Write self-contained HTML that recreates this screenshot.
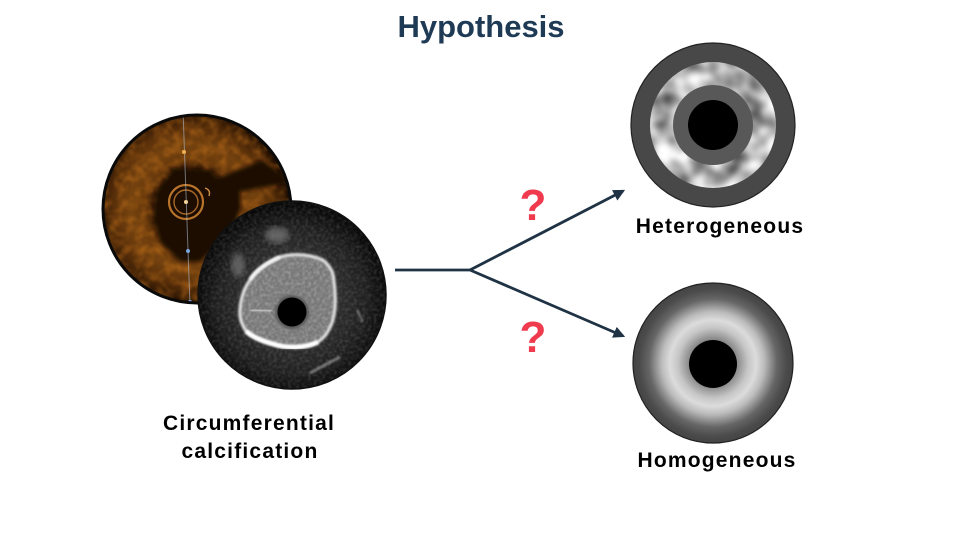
<!DOCTYPE html>
<html>
<head>
<meta charset="utf-8">
<style>
  html,body{margin:0;padding:0;background:#fff;}
  body{width:960px;height:540px;overflow:hidden;}
  svg{display:block;}
  .lbl{font-family:"Liberation Sans",Arial,sans-serif;font-weight:bold;}
</style>
</head>
<body>
<svg width="960" height="540" viewBox="0 0 960 540" xmlns="http://www.w3.org/2000/svg">
  <defs>
    <clipPath id="octClip"><circle cx="197" cy="209" r="94"/></clipPath>
    <clipPath id="ivusClip"><circle cx="292" cy="295" r="94"/></clipPath>
    <clipPath id="ringClip"><circle cx="713" cy="125" r="63"/></clipPath>
    <clipPath id="calcClip"><path d="M250,280 C256,270 268,262 280,257 C292,253 310,254 323,260 C330,266 334,272 334,282 C336,295 336,312 332,323 C328,333 324,338 318,342 C306,348 288,349 273,344 C262,341 252,337 246,331 C241,324 239,316 240,308 C241,297 244,288 250,280 Z"/></clipPath>

    <radialGradient id="octG" cx="192" cy="207" r="95" gradientUnits="userSpaceOnUse">
      <stop offset="0" stop-color="#1a0a02"/>
      <stop offset="0.38" stop-color="#241003"/>
      <stop offset="0.5" stop-color="#6a3a0c"/>
      <stop offset="0.66" stop-color="#74420f"/>
      <stop offset="0.82" stop-color="#5a300a"/>
      <stop offset="0.95" stop-color="#361b05"/>
      <stop offset="1" stop-color="#1e0e02"/>
    </radialGradient>
    <radialGradient id="ivusG" cx="292" cy="300" r="95" gradientUnits="userSpaceOnUse">
      <stop offset="0" stop-color="#4a4a4a"/>
      <stop offset="0.55" stop-color="#2a2a2a"/>
      <stop offset="0.78" stop-color="#1e1e1e"/>
      <stop offset="1" stop-color="#080808"/>
    </radialGradient>
    <radialGradient id="homoG" cx="713" cy="363" r="80" gradientUnits="userSpaceOnUse">
      <stop offset="0" stop-color="#777"/>
      <stop offset="0.3" stop-color="#8a8a8a"/>
      <stop offset="0.44" stop-color="#c6c6c6"/>
      <stop offset="0.54" stop-color="#dcdcdc"/>
      <stop offset="0.64" stop-color="#bcbcbc"/>
      <stop offset="0.8" stop-color="#666"/>
      <stop offset="0.92" stop-color="#4b4b4b"/>
      <stop offset="1" stop-color="#444"/>
    </radialGradient>

    <filter id="fOct" x="0" y="0" width="1" height="1" color-interpolation-filters="sRGB">
      <feTurbulence type="fractalNoise" baseFrequency="0.11" numOctaves="2" seed="5"/>
      <feColorMatrix type="matrix" values="0 0 0 0 0.85  0 0 0 0 0.5  0 0 0 0 0.12  1.6 0 0 0 -0.6"/>
      <feGaussianBlur stdDeviation="0.7"/>
    </filter>
    <filter id="fGray" x="0" y="0" width="1" height="1" color-interpolation-filters="sRGB">
      <feTurbulence type="fractalNoise" baseFrequency="0.35" numOctaves="2" seed="9"/>
      <feColorMatrix type="matrix" values="0 0 0 0 1  0 0 0 0 1  0 0 0 0 1  1.4 0 0 0 -0.55"/>
      <feGaussianBlur stdDeviation="0.4"/>
    </filter>
    <filter id="fMottle" x="0" y="0" width="1" height="1" color-interpolation-filters="sRGB">
      <feTurbulence type="fractalNoise" baseFrequency="0.055" numOctaves="2" seed="3"/>
      <feColorMatrix type="matrix" values="1.3 0 0 0 0.06  1.3 0 0 0 0.06  1.3 0 0 0 0.06  0 0 0 0 1"/>
      <feGaussianBlur stdDeviation="2.5"/>
    </filter>
    <filter id="blur3"><feGaussianBlur stdDeviation="3"/></filter>
    <filter id="blur2"><feGaussianBlur stdDeviation="2"/></filter>
    <filter id="blur1"><feGaussianBlur stdDeviation="1.1"/></filter>

    <marker id="ah" viewBox="0 0 10 10" refX="8" refY="5" markerWidth="4.2" markerHeight="4.2" orient="auto" markerUnits="strokeWidth">
      <path d="M0,0 L10,5 L0,10 z" fill="#1f3345"/>
    </marker>
  </defs>

  <!-- Title -->
  <text x="481" y="37" text-anchor="middle" class="lbl" font-size="31" fill="#1e3a54">Hypothesis</text>

  <!-- OCT image -->
  <g clip-path="url(#octClip)">
    <rect x="100" y="112" width="196" height="196" fill="url(#octG)"/>
    <rect x="100" y="112" width="196" height="196" filter="url(#fOct)" opacity="0.6"/>
    <path d="M173,168 L210,170 L217,178 L262,160 L292,182 L240,192 L241,208 L231,232 L211,252 L200,262 L180,262 L160,242 L153,218 L157,192 Z" fill="#1a0b02" filter="url(#blur2)"/>
    <circle cx="186" cy="202" r="17" fill="none" stroke="#b8742a" stroke-width="2.2"/>
    <circle cx="186" cy="202" r="12" fill="none" stroke="#a86828" stroke-width="1.4"/>
    <circle cx="186" cy="202" r="2" fill="#ffd690"/>
    <path d="M205,188 q6,2 4,8" fill="none" stroke="#d09048" stroke-width="1.4"/>
    <line x1="183" y1="110" x2="190" y2="306" stroke="#b8c8dc" stroke-width="1" opacity="0.55"/>
    <circle cx="184" cy="152" r="2" fill="#f0b050"/>
    <circle cx="188" cy="251" r="2" fill="#7aa6e0"/>
    <circle cx="190" cy="302" r="2" fill="#7aa6e0"/>
  </g>
  <circle cx="197" cy="209" r="94" fill="none" stroke="#0a0a0a" stroke-width="3"/>

  <!-- IVUS image -->
  <g clip-path="url(#ivusClip)">
    <rect x="196" y="199" width="194" height="194" fill="url(#ivusG)"/>
    <rect x="196" y="199" width="194" height="194" filter="url(#fGray)" opacity="0.25"/>
    <ellipse cx="277" cy="235" rx="12" ry="8" fill="#8a8a8a" opacity="0.6" filter="url(#blur3)"/>
    <ellipse cx="238" cy="265" rx="7" ry="12" fill="#8a8a8a" opacity="0.55" filter="url(#blur3)"/>
    <path d="M310,373 L340,357" stroke="#c8c8c8" stroke-width="2.5" opacity="0.6" filter="url(#blur1)"/>
    <path d="M357,310 L363,322" stroke="#c8c8c8" stroke-width="2" opacity="0.5" filter="url(#blur1)"/>
    <path d="M250,280 C256,270 268,262 280,257 C292,253 310,254 323,260 C330,266 334,272 334,282 C336,295 336,312 332,323 C328,333 324,338 318,342 C306,348 288,349 273,344 C262,341 252,337 246,331 C241,324 239,316 240,308 C241,297 244,288 250,280 Z" fill="#777"/>
    <g clip-path="url(#calcClip)">
      <rect x="230" y="240" width="120" height="120" filter="url(#fGray)" opacity="0.5"/>
    </g>
    <path d="M250,280 C256,270 268,262 280,257 C292,253 310,254 323,260 C330,266 334,272 334,282 C336,295 336,312 332,323 C328,333 324,338 318,342 C306,348 288,349 273,344 C262,341 252,337 246,331 C241,324 239,316 240,308 C241,297 244,288 250,280 Z" fill="none" stroke="#e8e8e8" stroke-width="3" filter="url(#blur1)"/>
    <path d="M246,331 C252,337 262,341 273,344 C288,349 306,348 318,342" fill="none" stroke="#ffffff" stroke-width="4.5" filter="url(#blur1)"/>
    <path d="M250,280 C256,270 268,262 280,257" fill="none" stroke="#f4f4f4" stroke-width="3.5" filter="url(#blur1)"/>
    <path d="M250,310 L272,311" stroke="#d0d0d0" stroke-width="2.5" filter="url(#blur1)"/>
    <circle cx="292" cy="312" r="17" fill="#5a5a5a" filter="url(#blur1)"/>
    <circle cx="292" cy="312" r="14.5" fill="#000"/>
  </g>
  <circle cx="292" cy="295" r="94" fill="none" stroke="#111" stroke-width="1.5"/>

  <!-- Labels left -->
  <text x="249" y="430" text-anchor="middle" class="lbl" font-size="21" letter-spacing="1.2" fill="#000">Circumferential</text>
  <text x="250" y="458" text-anchor="middle" class="lbl" font-size="21" letter-spacing="1.2" fill="#000">calcification</text>

  <!-- Connectors -->
  <line x1="395" y1="270" x2="471" y2="270" stroke="#1f3345" stroke-width="2.8"/>
  <line x1="470" y1="270" x2="623" y2="191" stroke="#1f3345" stroke-width="2.8" marker-end="url(#ah)"/>
  <line x1="470" y1="270" x2="623" y2="336" stroke="#1f3345" stroke-width="2.8" marker-end="url(#ah)"/>

  <!-- Question marks -->
  <text x="533" y="220" text-anchor="middle" class="lbl" font-size="44" fill="#f03a4e">?</text>
  <text x="533" y="352" text-anchor="middle" class="lbl" font-size="44" fill="#f03a4e">?</text>

  <!-- Heterogeneous -->
  <circle cx="713" cy="125" r="82" fill="#484848" stroke="#222" stroke-width="1.2"/>
  <g clip-path="url(#ringClip)">
    <rect x="640" y="52" width="146" height="146" filter="url(#fMottle)"/>
  </g>
  <circle cx="713" cy="125" r="40" fill="#585858"/>
  <circle cx="713" cy="125" r="25" fill="#000"/>
  <text x="720" y="233" text-anchor="middle" class="lbl" font-size="21" letter-spacing="1.2" fill="#000">Heterogeneous</text>

  <!-- Homogeneous -->
  <circle cx="713" cy="363" r="80" fill="url(#homoG)" stroke="#222" stroke-width="1.2"/>
  <circle cx="713" cy="364" r="24" fill="#000"/>
  <text x="717" y="467" text-anchor="middle" class="lbl" font-size="21" letter-spacing="1.2" fill="#000">Homogeneous</text>
</svg>
</body>
</html>
